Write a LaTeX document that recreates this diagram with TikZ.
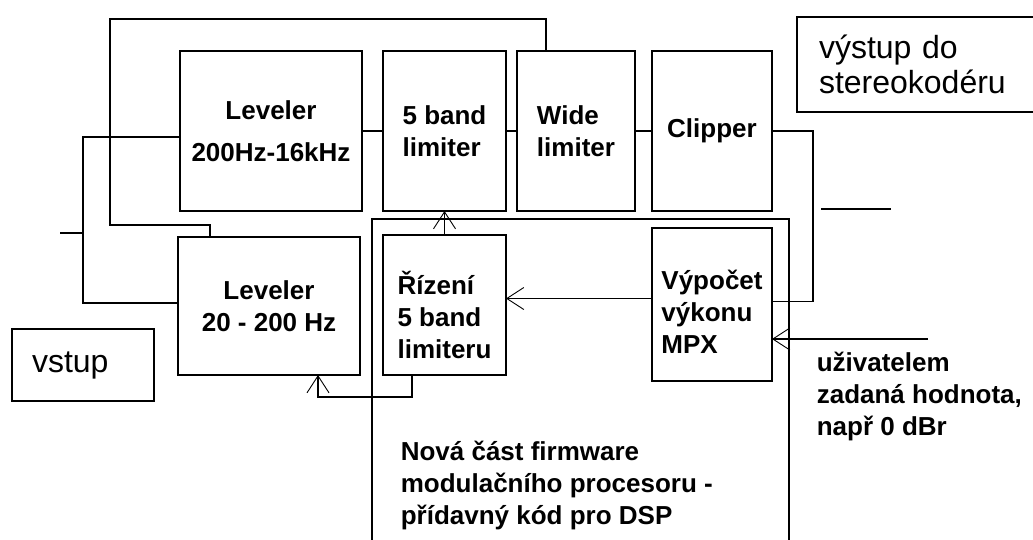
\documentclass[tikz,border=0pt]{standalone}
\usepackage{fontspec}
\setmainfont{Liberation Sans}
\usetikzlibrary{arrows.meta,positioning}

\begin{document}
\begin{tikzpicture}[
  x=1pt,y=-1pt,
  line width=1.6pt,
  block/.style={draw,inner sep=0pt,outer sep=0pt,minimum height=160pt,align=left,font=\fontsize{26}{32}\selectfont\bfseries},
  frame/.style={draw,inner sep=0pt,outer sep=0pt,align=left,font=\fontsize{32}{35}\selectfont},
  note/.style={align=left,inner sep=0pt,font=\fontsize{26}{32}\selectfont\bfseries},
  arrow/.style={-{Straight Barb[length=17pt,width=22pt,line width=0.9pt]}}
]
\useasboundingbox (0,0) rectangle (1033,539);
\clip (0,0) rectangle (1033,539);
% upper chain
\node[block,minimum width=182pt,align=center] (lev1) at (271,131) {Leveler\\[10pt]200Hz-16kHz};
\node[block,minimum width=123pt,right=21pt of lev1] (lim5) {5 band\\limiter};
\node[block,minimum width=118pt,right=11pt of lim5] (wide) {Wide\\limiter};
\node[block,minimum width=120pt,right=17pt of wide] (clip) {Clipper};
% lower row
\node[block,minimum width=182pt,minimum height=138pt,align=center] (lev2) at (269,306) {Leveler\\20 - 200 Hz};
\node[block,minimum width=123pt,minimum height=140pt,below=24pt of lim5] (riz) {\rule{0pt}{44pt}Řízení\\5 band\\limiteru};
\node[block,minimum width=120pt,minimum height=153pt,below=17pt of clip] (vyp) {\rule{0pt}{34pt}Výpočet\\výkonu\\MPX};
% in / out
\node[frame,minimum height=72pt,text width=102pt,inner xsep=20pt] (vstup) at (83,365) {vstup};
\node[frame,anchor=north west,minimum height=95pt,text width=220pt,inner xsep=22pt] (vystup) at (797,17) {výstup do\\stereokodéru};
\node[note,anchor=west] (dsp) at (400,485) {Nová část firmware\\modulačního procesoru -\\přídavný kód pro DSP};
\node[note,anchor=west] (uval) at (816,396) {uživatelem\\zadaná hodnota,\\např 0 dBr};
\coordinate (in) at (60,233);
\coordinate (out) at (891,209);
\coordinate (user) at (928,339);

% signal path
\draw (lev1) -- (lim5);
\draw (lim5) -- (wide);
\draw (wide) -- (clip);
\draw ([xshift=29pt]wide.north west) |- (110,19) -- (110,225) -| ([xshift=32pt]lev2.north west);
\draw ([yshift=-6pt]lev1.west) -| (83,233) |- ([yshift=3pt]lev2.west);
\draw (in) -- (83,233);
\draw (clip.east) -- ++(41,0) |- ([yshift=3pt]vyp.east);
\draw (821,209) -- (out);

% new firmware part
\draw (372,545) |- (789,219) -- (789,545);
\draw[arrow] (riz) -- (lim5);
\draw[arrow] ([yshift=6pt]vyp.west) -- ([yshift=6pt]vyp.west -| riz.east);
\draw[arrow] ([xshift=29pt]riz.south west) -- ++(0,22) -| ([xshift=140pt]lev2.south west);
\draw[arrow] (user) -- (user -| vyp.east);
\end{tikzpicture}
\end{document}
